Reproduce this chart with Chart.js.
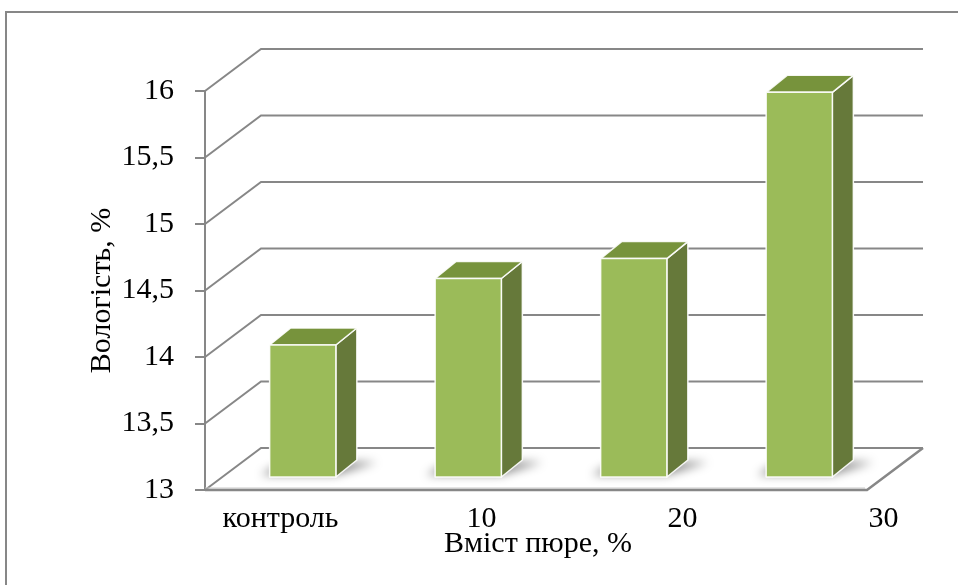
<!DOCTYPE html>
<html>
<head>
<meta charset="utf-8">
<script src="https://cdn.jsdelivr.net/npm/chart.js@4/dist/chart.umd.min.js"></script>
<style>
  html, body { margin: 0; padding: 0; background: #fff; }
  #wrap { width: 958px; height: 585px; position: relative; }
</style>
</head>
<body>
<div id="wrap"><canvas id="chart"></canvas></div>
<script>
// Moisture of samples by puree content
const categories = ['контроль', '10', '20', '30'];
const moisture = [14.0, 14.5, 14.65, 15.9];
const yTicks = [13, 13.5, 14, 14.5, 15, 15.5, 16];
const yTitle = 'Вологість, %';
const xTitle = 'Вміст пюре, %';

const FONT = "'Liberation Serif', 'Times New Roman', serif";
const FONT_SIZE = 30;
const GRID = '#878787';
const FRONT = '#9BBB59';
const SIDE = '#66793A';
const TOP = '#77933C';

// pseudo-3D offsets: back wall depth, bar placement inside the floor, bar depth
const WALL = { dx: 56, dy: -42 };
const SHIFT = { dx: 15, dy: -12 };
const DEPTH = { dx: 21, dy: -17 };
const LABEL_SPREAD = 1.2145;

const frame3d = {
  id: 'frame3d',
  beforeDraw(chart) {
    const { ctx } = chart;
    ctx.save();
    ctx.strokeStyle = GRID;
    ctx.lineWidth = 2;
    ctx.strokeRect(6, 12, 1000, 1000);
    ctx.restore();
  },
  beforeDatasetsDraw(chart) {
    const { ctx, chartArea: a, scales: { y } } = chart;
    ctx.save();
    ctx.strokeStyle = GRID;
    ctx.lineWidth = 2;
    // back wall grid with the diagonal side wall
    y.ticks.forEach(t => {
      const py = y.getPixelForValue(t.value);
      ctx.beginPath();
      ctx.moveTo(a.left, py);
      ctx.lineTo(a.left + WALL.dx, py + WALL.dy);
      ctx.lineTo(a.right + WALL.dx, py + WALL.dy);
      ctx.stroke();
    });
    // floor front and right edges
    const b = y.getPixelForValue(y.min);
    ctx.strokeStyle = '#c8c8c8';
    ctx.lineWidth = 1;
    ctx.beginPath();
    ctx.moveTo(a.left, b - 2);
    ctx.lineTo(a.right - 2, b - 2);
    ctx.stroke();
    ctx.strokeStyle = GRID;
    ctx.lineWidth = 2.5;
    ctx.beginPath();
    ctx.moveTo(a.left, b);
    ctx.lineTo(a.right, b);
    ctx.lineTo(a.right + WALL.dx, b + WALL.dy);
    ctx.stroke();
    ctx.restore();
  },
  afterDatasetsDraw(chart) {
    const { ctx, chartArea: a, scales: { x } } = chart;
    const meta = chart.getDatasetMeta(0);
    meta.data.forEach(bar => {
      const { x: cx, y: top, base, width } = bar.getProps(['x', 'y', 'base', 'width'], true);
      const L = cx - width / 2 + SHIFT.dx, R = cx + width / 2 + SHIFT.dx;
      const T = top + SHIFT.dy, B = base + SHIFT.dy;

      // soft shadow on the floor
      ctx.save();
      ctx.filter = 'blur(5px)';
      ctx.fillStyle = 'rgba(0,0,0,0.45)';
      ctx.beginPath();
      ctx.moveTo(L - 9, B - 2);
      ctx.lineTo(R, B - 2);
      ctx.lineTo(R + DEPTH.dx + 20, B + DEPTH.dy + 2);
      ctx.lineTo(L + DEPTH.dx - 8, B + DEPTH.dy + 2);
      ctx.closePath();
      ctx.fill();
      ctx.restore();

      ctx.save();
      ctx.strokeStyle = 'rgba(255,255,255,0.9)';
      ctx.lineWidth = 1.5;
      ctx.lineJoin = 'round';
      // side face
      ctx.fillStyle = SIDE;
      ctx.beginPath();
      ctx.moveTo(R, T);
      ctx.lineTo(R + DEPTH.dx, T + DEPTH.dy);
      ctx.lineTo(R + DEPTH.dx, B + DEPTH.dy);
      ctx.lineTo(R, B);
      ctx.closePath();
      ctx.fill();
      ctx.stroke();
      // top face
      ctx.fillStyle = TOP;
      ctx.beginPath();
      ctx.moveTo(L, T);
      ctx.lineTo(L + DEPTH.dx, T + DEPTH.dy);
      ctx.lineTo(R + DEPTH.dx, T + DEPTH.dy);
      ctx.lineTo(R, T);
      ctx.closePath();
      ctx.fill();
      ctx.stroke();
      // front face
      ctx.fillStyle = FRONT;
      ctx.fillRect(L, T, R - L, B - T);
      ctx.strokeRect(L, T, R - L, B - T);
      ctx.restore();
    });

    // category labels and axis titles
    ctx.save();
    ctx.fillStyle = '#000';
    ctx.font = `${FONT_SIZE}px ${FONT}`;
    ctx.textAlign = 'center';
    ctx.textBaseline = 'alphabetic';
    categories.forEach((c, i) => {
      const px = x.getPixelForValue(i);
      const lx = a.left + (px - a.left) * LABEL_SPREAD - 25;
      ctx.fillText(c, lx, 527);
    });
    ctx.fillText(xTitle, (a.left + a.right) / 2 + 2, 552);
    ctx.translate(102, (a.top + a.bottom) / 2);
    ctx.rotate(-Math.PI / 2);
    ctx.textBaseline = 'middle';
    ctx.fillText(yTitle, 0, 0);
    ctx.restore();
  }
};

new Chart(document.getElementById('chart'), {
  type: 'bar',
  data: {
    labels: categories,
    datasets: [{
      data: moisture,
      base: yTicks[0],
      backgroundColor: 'rgba(0,0,0,0)',
      borderWidth: 0,
      barPercentage: 0.4,
      categoryPercentage: 1
    }]
  },
  options: {
    responsive: true,
    maintainAspectRatio: false,
    animation: false,
    layout: { padding: { left: 5, top: 91, right: 91, bottom: 95 } },
    plugins: { legend: { display: false }, tooltip: { enabled: false } },
    scales: {
      x: { display: false },
      y: {
        min: yTicks[0],
        max: yTicks[yTicks.length - 1],
        ticks: {
          stepSize: yTicks[1] - yTicks[0],
          color: '#000',
          padding: 21,
          font: { family: FONT, size: FONT_SIZE },
          callback: v => String(v).replace('.', ',')
        },
        grid: { drawOnChartArea: false, drawTicks: true, tickLength: 10, color: GRID, lineWidth: 2 },
        border: { display: true, color: GRID, width: 2 },
        afterFit: s => { s.width = 200; }
      }
    }
  },
  plugins: [frame3d]
});
</script>
</body>
</html>
